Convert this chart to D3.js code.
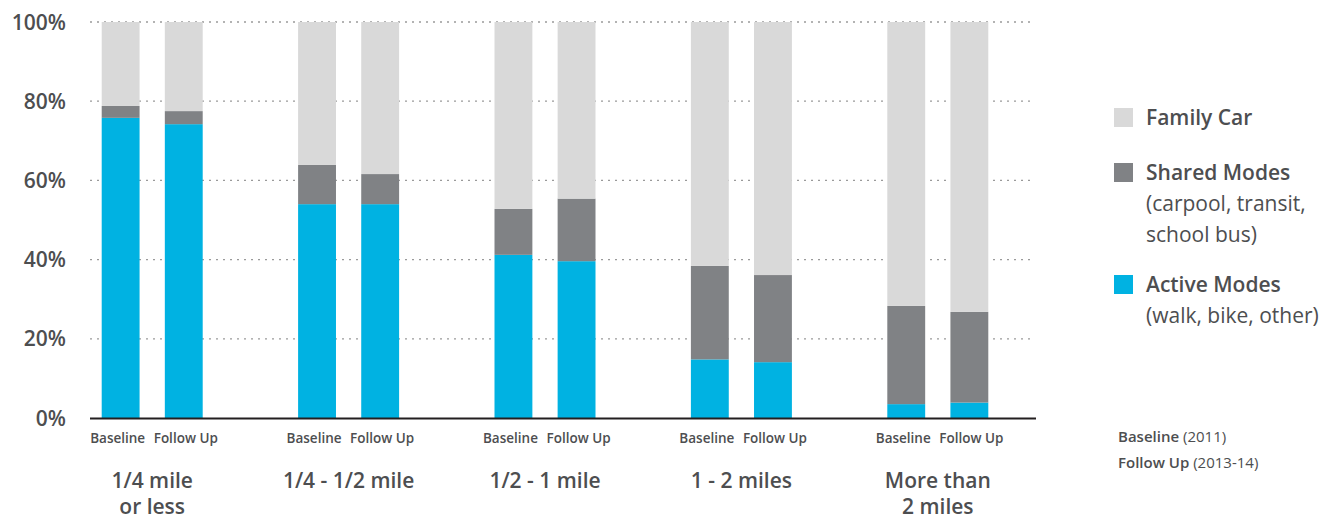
<!DOCTYPE html>
<html>
<head>
<meta charset="utf-8">
<script src="https://cdn.jsdelivr.net/npm/d3@7"></script>
<style>
body { margin: 0; background: #fff; }
text { font-family: "Open Sans", sans-serif; fill: #4d4e50; }
</style>
</head>
<body>
<div id="chart"></div>
<script>
// data
var groups = ['1/4 mile|or less', '1/4 - 1/2 mile', '1/2 - 1 mile', '1 - 2 miles', 'More than|2 miles'];
var periods = ['Baseline', 'Follow Up'];
// percentages per group, [baseline, follow up]
var active = [[75.8, 74.2], [54.0, 54.0], [41.2, 39.6], [14.8, 14.1], [3.5, 3.9]];
var shared = [[3.0, 3.3], [9.9, 7.6], [11.6, 15.8], [23.6, 22.0], [24.8, 22.9]];
var yTicks = [0, 20, 40, 60, 80, 100];
var colors = { car: '#d9d9d9', shared: '#808285', active: '#00b2e2' };

var W = 1338, H = 519;
var svg = d3.select('#chart').append('svg').attr('width', W).attr('height', H);

var y = d3.scaleLinear().domain([0, 100]).range([418, 22]);
var gx = d3.scaleBand().domain(groups).range([54, 1036]).padding(0);
var px = d3.scaleBand().domain(periods).range([0, 101]).paddingInner(0.4).paddingOuter(0);

// grid
svg.append('g').selectAll('line').data(yTicks.filter(function(d) { return d > 0; }))
    .enter().append('line')
    .attr('x1', 90).attr('x2', 1032)
    .attr('y1', function(d) { return y(d); }).attr('y2', function(d) { return y(d); })
    .attr('stroke', '#9a9a9a').attr('stroke-width', 1.3).attr('stroke-dasharray', '2,5');

svg.append('g').selectAll('text').data(yTicks).enter().append('text')
    .attr('x', 66).attr('y', function(d) { return y(d) + 7.5; })
    .attr('text-anchor', 'end').style('font-size', '21px').style('font-weight', 600)
    .text(function(d) { return d + '%'; });

// bars
var rows = [];
groups.forEach(function(g, i) {
    periods.forEach(function(p, j) {
        var a = active[i][j], s = shared[i][j];
        rows.push({ g: g, p: p, segs: [
            { k: 'active', y0: 0, y1: a },
            { k: 'shared', y0: a, y1: a + s },
            { k: 'car', y0: a + s, y1: 100 }
        ]});
    });
});

var bar = svg.append('g').selectAll('g').data(rows).enter().append('g')
    .attr('transform', function(d) {
        return 'translate(' + (gx(d.g) + (gx.bandwidth() - 101) / 2 + px(d.p)) + ',0)';
    });
bar.selectAll('rect').data(function(d) { return d.segs; }).enter().append('rect')
    .attr('x', 0).attr('width', px.bandwidth())
    .attr('y', function(d) { return y(d.y1); })
    .attr('height', function(d) { return y(d.y0) - y(d.y1); })
    .attr('fill', function(d) { return colors[d.k]; });

bar.append('text')
    .attr('x', function(d) { return px.bandwidth() / 2 + (d.p === 'Baseline' ? -3 : 2); })
    .attr('y', 443)
    .attr('text-anchor', 'middle').style('font-size', '13.5px').style('font-weight', 600)
    .text(function(d) { return d.p; });

// axis line
svg.append('line').attr('x1', 90).attr('x2', 1036).attr('y1', 418.5).attr('y2', 418.5)
    .attr('stroke', '#231f20').attr('stroke-width', 2);

// group labels
var gl = svg.append('g').selectAll('text').data(groups).enter().append('text')
    .attr('text-anchor', 'middle').style('font-size', '21px').style('font-weight', 600)
    .attr('transform', function(d) { return 'translate(' + (gx(d) + gx.bandwidth() / 2) + ',0)'; });
gl.selectAll('tspan').data(function(d) { return d.split('|'); }).enter().append('tspan')
    .attr('x', 0).attr('y', function(d, i) { return 488 + i * 26; })
    .text(function(d) { return d; });

// legend
var legend = [
    { k: 'car', lines: ['Family Car'], y: 117 },
    { k: 'shared', lines: ['Shared Modes', '(carpool, transit,', 'school bus)'], y: 172 },
    { k: 'active', lines: ['Active Modes', '(walk, bike, other)'], y: 284 }
];
var lg = svg.append('g').selectAll('g').data(legend).enter().append('g');
lg.append('rect').attr('x', 1114).attr('width', 19).attr('height', 19)
    .attr('y', function(d) { return d.y - 9; })
    .attr('fill', function(d) { return colors[d.k]; });
lg.each(function(d) {
    var t = d3.select(this).append('text').style('font-size', '21px');
    d.lines.forEach(function(l, i) {
        t.append('tspan').attr('x', 1146).attr('y', d.y + 7.5 + i * 31)
            .style('font-weight', i === 0 ? 600 : 400).text(l);
    });
});

// period notes
var notes = [['Baseline', ' (2011)'], ['Follow Up', ' (2013-14)']];
svg.append('g').selectAll('text').data(notes).enter().append('text')
    .attr('x', 1118).attr('y', function(d, i) { return 442 + i * 26; })
    .style('font-size', '15px')
    .each(function(d) {
        d3.select(this).append('tspan').style('font-weight', 600).text(d[0]);
        d3.select(this).append('tspan').text(d[1]);
    });
</script>
</body>
</html>
